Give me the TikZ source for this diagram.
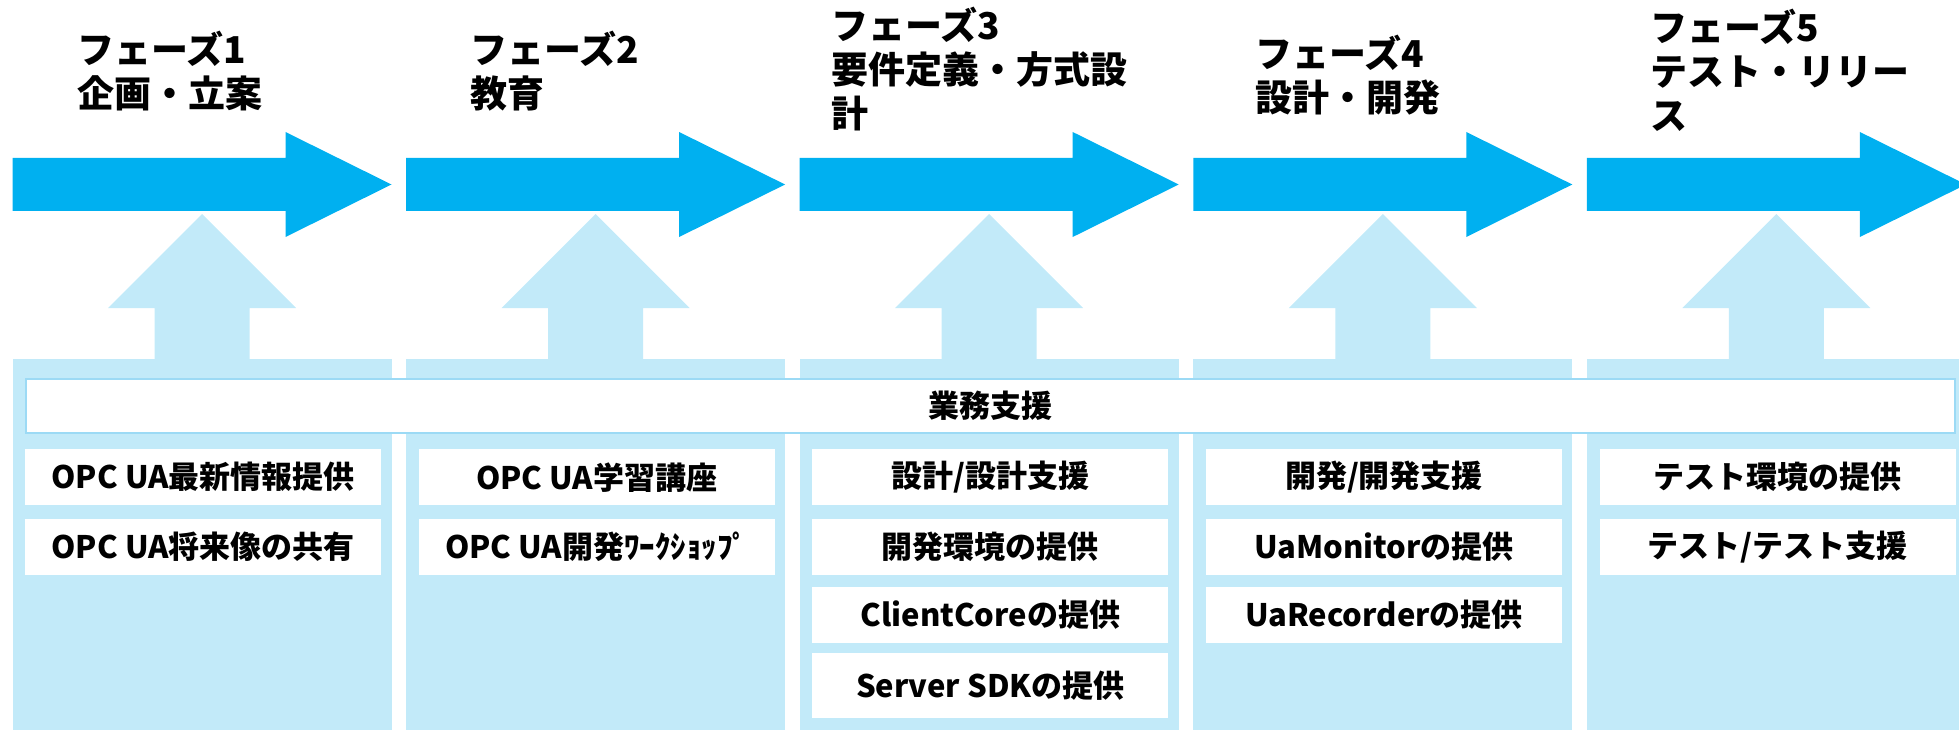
\documentclass[tikz,border=0pt]{standalone}
\usepackage{fontspec}
\newfontfamily\jp{Noto Sans CJK JP}
\definecolor{arrowblue}{HTML}{00B0F0}
\definecolor{paleblue}{HTML}{C2EAF9}
\definecolor{barline}{HTML}{9CDAF5}
\begin{document}
\begin{tikzpicture}[x=1pt,y=-1pt,
  titletext/.style={anchor=base west, align=left, inner sep=0pt, font=\jp\bfseries\fontsize{37}{44}\selectfont},
  itembox/.style={fill=white, minimum width=356pt, minimum height=56pt, inner sep=0pt, anchor=north west, font=\jp\bfseries\fontsize{31}{36}\selectfont},
  bigarrow/.style={fill=arrowblue},
  supportarrow/.style={fill=paleblue},
  panel/.style={fill=paleblue},
  supportbar/.style={draw=barline, line width=2pt, fill=white, minimum width=1929pt, minimum height=54pt, inner sep=0pt, anchor=north west, font=\jp\bfseries\fontsize{31}{36}\selectfont}]
\useasboundingbox (0,0) rectangle (1959,730);
\foreach \i in {0,...,4}{
  \pgfmathsetmacro\L{12.5+393.6*\i}
  \pgfmathsetmacro\C{\L+189.5}
  \fill[panel] (\L,359) rectangle ++(379,371);
  \fill[bigarrow] (\L,158) -- ++(273,0) -- ++(0,-26) -- ++(106,52.5) -- ++(-106,52.5) -- ++(0,-26) -- (\L,211) -- cycle;
  \fill[supportarrow] (\C-47.5,359.5) -- (\C-47.5,308) -- (\C-94,308) -- (\C,214) -- (\C+94,308) -- (\C+47.5,308) -- (\C+47.5,359.5) -- cycle;
}
% titles (anchored at the baseline of the last line)
\node[titletext] (t1) at (77,108) {フェーズ1\\企画・立案};
\node[titletext] (t2) at (470,108) {フェーズ2\\教育};
\node[titletext] (t3) at (831,127.5) {フェーズ3\\要件定義・方式設\\計};
\node[titletext] (t4) at (1255,112) {フェーズ4\\設計・開発};
\node[titletext] (t5) at (1650,130) {フェーズ5\\テスト・リリー\\ス};
% support bar
\node[supportbar] (bar) at (25,377.7) {業務支援};
% column 1
\node[itembox] (b11) at (25,449) {OPC UA最新情報提供};
\node[itembox] (b12) at (25,519) {OPC UA将来像の共有};
% column 2
\node[itembox] (b21) at (418.6,449) {OPC UA学習講座};
\node[itembox] (b22) at (418.6,519) {OPC UA開発ﾜｰｸｼｮｯﾌﾟ};
% column 3
\node[itembox] (b31) at (812.2,449) {設計/設計支援};
\node[itembox] (b32) at (812.2,519) {開発環境の提供};
\node[itembox] (b33) at (812.2,587) {ClientCoreの提供};
\node[itembox, minimum height=65pt] (b34) at (812.2,653) {Server SDKの提供};
% column 4
\node[itembox] (b41) at (1205.8,449) {開発/開発支援};
\node[itembox] (b42) at (1205.8,519) {UaMonitorの提供};
\node[itembox] (b43) at (1205.8,587) {UaRecorderの提供};
% column 5
\node[itembox] (b51) at (1599.4,449) {テスト環境の提供};
\node[itembox] (b52) at (1599.4,519) {テスト/テスト支援};
\end{tikzpicture}
\end{document}
